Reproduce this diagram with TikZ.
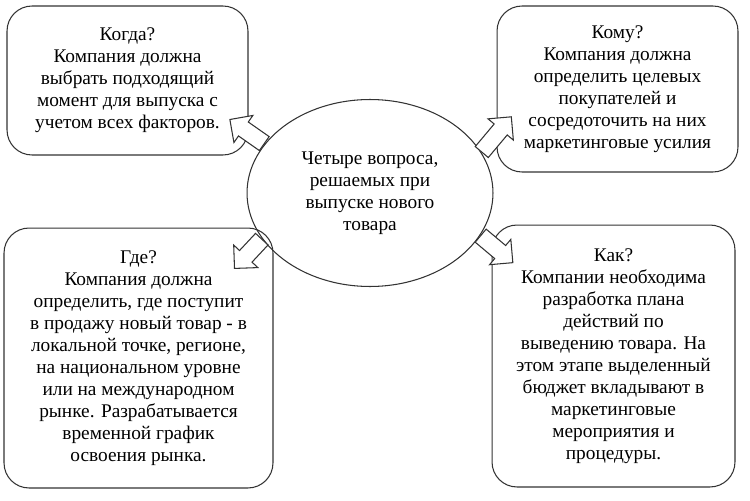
\documentclass[tikz,border=0pt]{standalone}
\usepackage{fontspec}
\setmainfont{Liberation Serif}
\usetikzlibrary{shapes.geometric,shapes.arrows}

\begin{document}
\begin{tikzpicture}[x=0.02cm,y=-0.02cm,
        texto/.style={draw=black!80,line width=0.6pt,align=center,inner sep=0pt,font=\fontsize{11}{12.5}\selectfont},
        caja/.style={texto,rounded corners=0.5cm},
        flecha/.style={single arrow,draw=black!80,fill=white,line width=0.6pt,inner xsep=0pt,inner ysep=0.16cm,single arrow head extend=0.16cm,minimum height=0.84cm,anchor=tail}]
        \useasboundingbox (0,0) rectangle (750,500);
        % Эллипс в центре
            \node[texto,ellipse,minimum width=4.92cm,minimum height=3.74cm] (center) at (370,193) {Четыре вопроса,\\решаемых при\\выпуске нового\\товара};
            % Четыре вопроса
            \node[caja,minimum width=4.82cm,minimum height=2.98cm] (when) at (127.5,80.5) {Когда?\\Компания должна\\выбрать подходящий\\момент для выпуска с\\учетом всех факторов.};
            \node[caja,minimum width=4.82cm,minimum height=3.32cm] (whom) at (617.5,89) {Кому?\\Компания должна\\определить целевых\\покупателей и\\сосредоточить на них\\маркетинговые усилия};
            \node[caja,minimum width=5.38cm,minimum height=5.2cm] (where) at (138.5,358) {Где?\\Компания должна\\определить, где поступит\\в продажу новый товар - в\\локальной точке, регионе,\\на национальном уровне\\или на международном\\рынке. Разрабатывается\\временной график\\освоения рынка.};
            \node[caja,minimum width=4.86cm,minimum height=5.24cm] (how) at (613.5,356) {Как?\\Компании необходима\\разработка плана\\действий по\\выведению товара. На\\этом этапе выделенный\\бюджет вкладывают в\\маркетинговые\\мероприятия и\\процедуры.};
            
            % Стрелки
            \node[flecha,rotate=145] (toWhen) at (center.155) {};
            \node[flecha,rotate=50,minimum height=0.92cm] (toWhom) at (center.20) {};
            \node[flecha,rotate=227,minimum height=0.8cm] (toWhere) at (center.203) {};
            \node[flecha,rotate=-40] (toHow) at (center.-21) {};
        \end{tikzpicture}
\end{document}
